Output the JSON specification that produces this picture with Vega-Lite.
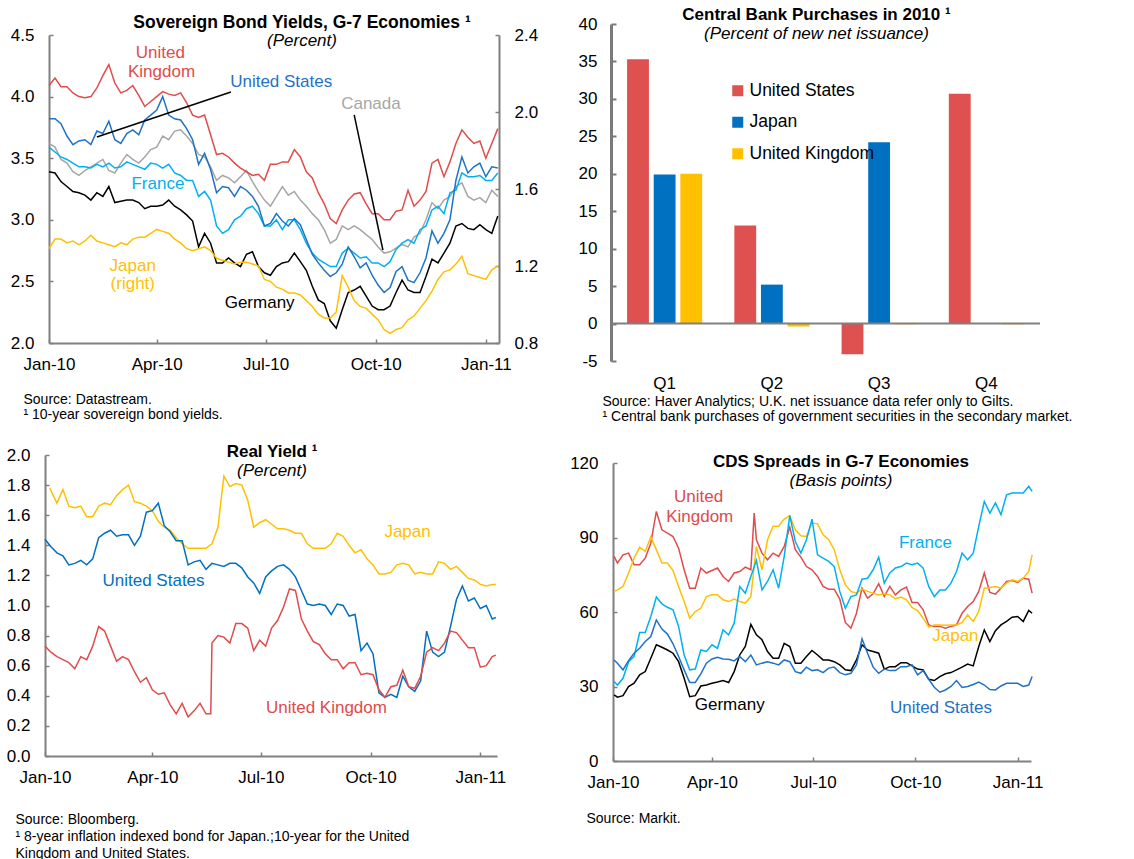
{
"$schema":"https://vega.github.io/schema/vega-lite/v6.json",
"autosize":{"type":"none"},
"padding":{"left":45,"top":24,"right":1089,"bottom":835},
"bounds":"flush",
"columns":2,
"spacing":{"row":94,"column":112},
"resolve":{"scale":{"x":"independent","y":"independent","color":"independent"},"legend":{"color":"independent"}},
"config":{
 "font":"Liberation Sans",
 "locale":{"number":{"decimal":".","thousands":",","grouping":[3],"currency":["$",""],"minus":"-"}},
 "view":{"stroke":null},
 "axis":{"domainColor":"#808080","domainWidth":2,"tickColor":"#808080","tickWidth":1.5,"tickSize":-4,"labelFont":"Liberation Sans","labelFontSize":17,"labelColor":"#000000","grid":false,"titleFont":"Liberation Sans","titleFontSize":14,"titleFontWeight":"normal","titleColor":"#000000","labelFlush":false,"labelOverlap":false,"labelBound":false},
 "axisX":{"labelPadding":17,"titleAnchor":"start","titleAlign":"left","titleBaseline":"top","titleAngle":0},
 "axisY":{"labelPadding":19},
 "title":{"font":"Liberation Sans","fontSize":17,"fontWeight":"bold","color":"#000000","subtitleFont":"Liberation Sans","subtitleFontSize":17,"subtitleFontStyle":"italic","subtitleFontWeight":"normal","subtitleColor":"#000000","subtitlePadding":2,"anchor":"middle","frame":"group"},
 "text":{"font":"Liberation Sans","fontSize":17}
},
"datasets":{
"p1UK":[{"d":"2010-01-01","v":4.09},{"d":"2010-01-06","v":4.15},{"d":"2010-01-11","v":4.08},{"d":"2010-01-16","v":4.08},{"d":"2010-01-21","v":4.03},{"d":"2010-01-26","v":4.00},{"d":"2010-01-31","v":3.99},{"d":"2010-02-05","v":4.00},{"d":"2010-02-10","v":4.07},{"d":"2010-02-15","v":4.17},{"d":"2010-02-20","v":4.26},{"d":"2010-02-25","v":4.11},{"d":"2010-03-02","v":4.03},{"d":"2010-03-07","v":4.05},{"d":"2010-03-12","v":4.09},{"d":"2010-03-17","v":4.01},{"d":"2010-03-22","v":3.92},{"d":"2010-03-27","v":3.96},{"d":"2010-04-01","v":4.00},{"d":"2010-04-06","v":4.04},{"d":"2010-04-11","v":4.02},{"d":"2010-04-16","v":4.01},{"d":"2010-04-21","v":4.03},{"d":"2010-04-26","v":3.95},{"d":"2010-05-01","v":3.85},{"d":"2010-05-06","v":3.83},{"d":"2010-05-11","v":3.85},{"d":"2010-05-16","v":3.69},{"d":"2010-05-21","v":3.53},{"d":"2010-05-26","v":3.54},{"d":"2010-05-31","v":3.51},{"d":"2010-06-05","v":3.46},{"d":"2010-06-10","v":3.42},{"d":"2010-06-15","v":3.39},{"d":"2010-06-20","v":3.36},{"d":"2010-06-25","v":3.37},{"d":"2010-06-30","v":3.32},{"d":"2010-07-05","v":3.45},{"d":"2010-07-10","v":3.45},{"d":"2010-07-15","v":3.47},{"d":"2010-07-20","v":3.47},{"d":"2010-07-25","v":3.57},{"d":"2010-07-30","v":3.51},{"d":"2010-08-04","v":3.39},{"d":"2010-08-09","v":3.34},{"d":"2010-08-14","v":3.22},{"d":"2010-08-19","v":3.13},{"d":"2010-08-24","v":3.01},{"d":"2010-08-29","v":2.97},{"d":"2010-09-03","v":3.08},{"d":"2010-09-08","v":3.16},{"d":"2010-09-13","v":3.21},{"d":"2010-09-18","v":3.22},{"d":"2010-09-23","v":3.13},{"d":"2010-09-28","v":3.05},{"d":"2010-10-03","v":3.05},{"d":"2010-10-08","v":3.00},{"d":"2010-10-13","v":3.00},{"d":"2010-10-18","v":3.07},{"d":"2010-10-23","v":3.08},{"d":"2010-10-28","v":3.24},{"d":"2010-11-02","v":3.11},{"d":"2010-11-07","v":3.16},{"d":"2010-11-12","v":3.23},{"d":"2010-11-17","v":3.46},{"d":"2010-11-22","v":3.49},{"d":"2010-11-27","v":3.35},{"d":"2010-12-02","v":3.47},{"d":"2010-12-07","v":3.62},{"d":"2010-12-12","v":3.73},{"d":"2010-12-17","v":3.67},{"d":"2010-12-22","v":3.62},{"d":"2010-12-27","v":3.64},{"d":"2011-01-01","v":3.50},{"d":"2011-01-06","v":3.62},{"d":"2011-01-11","v":3.74}],
"p1US":[{"d":"2010-01-01","v":3.82},{"d":"2010-01-06","v":3.82},{"d":"2010-01-11","v":3.78},{"d":"2010-01-16","v":3.68},{"d":"2010-01-21","v":3.61},{"d":"2010-01-26","v":3.64},{"d":"2010-01-31","v":3.65},{"d":"2010-02-05","v":3.61},{"d":"2010-02-10","v":3.72},{"d":"2010-02-15","v":3.70},{"d":"2010-02-20","v":3.80},{"d":"2010-02-25","v":3.65},{"d":"2010-03-02","v":3.62},{"d":"2010-03-07","v":3.70},{"d":"2010-03-12","v":3.73},{"d":"2010-03-17","v":3.69},{"d":"2010-03-22","v":3.81},{"d":"2010-03-27","v":3.85},{"d":"2010-04-01","v":3.89},{"d":"2010-04-06","v":4.00},{"d":"2010-04-11","v":3.85},{"d":"2010-04-16","v":3.82},{"d":"2010-04-21","v":3.81},{"d":"2010-04-26","v":3.74},{"d":"2010-05-01","v":3.65},{"d":"2010-05-06","v":3.45},{"d":"2010-05-11","v":3.54},{"d":"2010-05-16","v":3.41},{"d":"2010-05-21","v":3.22},{"d":"2010-05-26","v":3.27},{"d":"2010-05-31","v":3.26},{"d":"2010-06-05","v":3.19},{"d":"2010-06-10","v":3.27},{"d":"2010-06-15","v":3.24},{"d":"2010-06-20","v":3.19},{"d":"2010-06-25","v":3.11},{"d":"2010-06-30","v":2.95},{"d":"2010-07-05","v":2.97},{"d":"2010-07-10","v":3.05},{"d":"2010-07-15","v":2.99},{"d":"2010-07-20","v":2.95},{"d":"2010-07-25","v":3.01},{"d":"2010-07-30","v":2.96},{"d":"2010-08-04","v":2.84},{"d":"2010-08-09","v":2.72},{"d":"2010-08-14","v":2.65},{"d":"2010-08-19","v":2.59},{"d":"2010-08-24","v":2.54},{"d":"2010-08-29","v":2.57},{"d":"2010-09-03","v":2.64},{"d":"2010-09-08","v":2.78},{"d":"2010-09-13","v":2.70},{"d":"2010-09-18","v":2.61},{"d":"2010-09-23","v":2.65},{"d":"2010-09-28","v":2.55},{"d":"2010-10-03","v":2.47},{"d":"2010-10-08","v":2.41},{"d":"2010-10-13","v":2.45},{"d":"2010-10-18","v":2.58},{"d":"2010-10-23","v":2.62},{"d":"2010-10-28","v":2.51},{"d":"2010-11-02","v":2.49},{"d":"2010-11-07","v":2.57},{"d":"2010-11-12","v":2.69},{"d":"2010-11-17","v":2.91},{"d":"2010-11-22","v":2.81},{"d":"2010-11-27","v":2.89},{"d":"2010-12-02","v":3.00},{"d":"2010-12-07","v":3.32},{"d":"2010-12-12","v":3.51},{"d":"2010-12-17","v":3.38},{"d":"2010-12-22","v":3.43},{"d":"2010-12-27","v":3.46},{"d":"2011-01-01","v":3.35},{"d":"2011-01-06","v":3.43},{"d":"2011-01-11","v":3.42}],
"p1CA":[{"d":"2010-01-01","v":3.62},{"d":"2010-01-06","v":3.59},{"d":"2010-01-11","v":3.49},{"d":"2010-01-16","v":3.46},{"d":"2010-01-21","v":3.39},{"d":"2010-01-26","v":3.36},{"d":"2010-01-31","v":3.40},{"d":"2010-02-05","v":3.43},{"d":"2010-02-10","v":3.46},{"d":"2010-02-15","v":3.49},{"d":"2010-02-20","v":3.40},{"d":"2010-02-25","v":3.38},{"d":"2010-03-02","v":3.46},{"d":"2010-03-07","v":3.53},{"d":"2010-03-12","v":3.49},{"d":"2010-03-17","v":3.46},{"d":"2010-03-22","v":3.51},{"d":"2010-03-27","v":3.57},{"d":"2010-04-01","v":3.59},{"d":"2010-04-06","v":3.68},{"d":"2010-04-11","v":3.65},{"d":"2010-04-16","v":3.72},{"d":"2010-04-21","v":3.73},{"d":"2010-04-26","v":3.68},{"d":"2010-05-01","v":3.62},{"d":"2010-05-06","v":3.53},{"d":"2010-05-11","v":3.51},{"d":"2010-05-16","v":3.43},{"d":"2010-05-21","v":3.32},{"d":"2010-05-26","v":3.36},{"d":"2010-05-31","v":3.34},{"d":"2010-06-05","v":3.30},{"d":"2010-06-10","v":3.35},{"d":"2010-06-15","v":3.40},{"d":"2010-06-20","v":3.31},{"d":"2010-06-25","v":3.23},{"d":"2010-06-30","v":3.16},{"d":"2010-07-05","v":3.11},{"d":"2010-07-10","v":3.19},{"d":"2010-07-15","v":3.27},{"d":"2010-07-20","v":3.20},{"d":"2010-07-25","v":3.23},{"d":"2010-07-30","v":3.16},{"d":"2010-08-04","v":3.11},{"d":"2010-08-09","v":3.05},{"d":"2010-08-14","v":3.00},{"d":"2010-08-19","v":2.92},{"d":"2010-08-24","v":2.81},{"d":"2010-08-29","v":2.84},{"d":"2010-09-03","v":2.95},{"d":"2010-09-08","v":2.92},{"d":"2010-09-13","v":2.95},{"d":"2010-09-18","v":2.92},{"d":"2010-09-23","v":2.88},{"d":"2010-09-28","v":2.84},{"d":"2010-10-03","v":2.78},{"d":"2010-10-08","v":2.73},{"d":"2010-10-13","v":2.74},{"d":"2010-10-18","v":2.77},{"d":"2010-10-23","v":2.80},{"d":"2010-10-28","v":2.78},{"d":"2010-11-02","v":2.86},{"d":"2010-11-07","v":2.89},{"d":"2010-11-12","v":3.00},{"d":"2010-11-17","v":3.14},{"d":"2010-11-22","v":3.09},{"d":"2010-11-27","v":3.16},{"d":"2010-12-02","v":3.19},{"d":"2010-12-07","v":3.27},{"d":"2010-12-12","v":3.30},{"d":"2010-12-17","v":3.19},{"d":"2010-12-22","v":3.16},{"d":"2010-12-27","v":3.18},{"d":"2011-01-01","v":3.14},{"d":"2011-01-06","v":3.24},{"d":"2011-01-11","v":3.19}],
"p1FR":[{"d":"2010-01-01","v":3.59},{"d":"2010-01-06","v":3.55},{"d":"2010-01-11","v":3.51},{"d":"2010-01-16","v":3.49},{"d":"2010-01-21","v":3.46},{"d":"2010-01-26","v":3.43},{"d":"2010-01-31","v":3.43},{"d":"2010-02-05","v":3.42},{"d":"2010-02-10","v":3.45},{"d":"2010-02-15","v":3.43},{"d":"2010-02-20","v":3.46},{"d":"2010-02-25","v":3.42},{"d":"2010-03-02","v":3.43},{"d":"2010-03-07","v":3.47},{"d":"2010-03-12","v":3.45},{"d":"2010-03-17","v":3.43},{"d":"2010-03-22","v":3.41},{"d":"2010-03-27","v":3.46},{"d":"2010-04-01","v":3.45},{"d":"2010-04-06","v":3.42},{"d":"2010-04-11","v":3.45},{"d":"2010-04-16","v":3.38},{"d":"2010-04-21","v":3.36},{"d":"2010-04-26","v":3.32},{"d":"2010-05-01","v":3.32},{"d":"2010-05-06","v":3.19},{"d":"2010-05-11","v":3.23},{"d":"2010-05-16","v":3.16},{"d":"2010-05-21","v":2.95},{"d":"2010-05-26","v":2.89},{"d":"2010-05-31","v":2.92},{"d":"2010-06-05","v":3.00},{"d":"2010-06-10","v":3.03},{"d":"2010-06-15","v":3.09},{"d":"2010-06-20","v":3.11},{"d":"2010-06-25","v":3.05},{"d":"2010-06-30","v":2.95},{"d":"2010-07-05","v":2.95},{"d":"2010-07-10","v":3.00},{"d":"2010-07-15","v":2.92},{"d":"2010-07-20","v":3.00},{"d":"2010-07-25","v":3.00},{"d":"2010-07-30","v":2.92},{"d":"2010-08-04","v":2.81},{"d":"2010-08-09","v":2.73},{"d":"2010-08-14","v":2.68},{"d":"2010-08-19","v":2.65},{"d":"2010-08-24","v":2.62},{"d":"2010-08-29","v":2.62},{"d":"2010-09-03","v":2.73},{"d":"2010-09-08","v":2.77},{"d":"2010-09-13","v":2.73},{"d":"2010-09-18","v":2.69},{"d":"2010-09-23","v":2.70},{"d":"2010-09-28","v":2.65},{"d":"2010-10-03","v":2.65},{"d":"2010-10-08","v":2.62},{"d":"2010-10-13","v":2.66},{"d":"2010-10-18","v":2.76},{"d":"2010-10-23","v":2.81},{"d":"2010-10-28","v":2.84},{"d":"2010-11-02","v":2.81},{"d":"2010-11-07","v":2.92},{"d":"2010-11-12","v":2.95},{"d":"2010-11-17","v":3.08},{"d":"2010-11-22","v":3.11},{"d":"2010-11-27","v":3.05},{"d":"2010-12-02","v":3.22},{"d":"2010-12-07","v":3.24},{"d":"2010-12-12","v":3.38},{"d":"2010-12-17","v":3.35},{"d":"2010-12-22","v":3.35},{"d":"2010-12-27","v":3.36},{"d":"2011-01-01","v":3.32},{"d":"2011-01-06","v":3.32},{"d":"2011-01-11","v":3.38}],
"p1DE":[{"d":"2010-01-01","v":3.39},{"d":"2010-01-06","v":3.38},{"d":"2010-01-11","v":3.31},{"d":"2010-01-16","v":3.27},{"d":"2010-01-21","v":3.23},{"d":"2010-01-26","v":3.22},{"d":"2010-01-31","v":3.20},{"d":"2010-02-05","v":3.16},{"d":"2010-02-10","v":3.22},{"d":"2010-02-15","v":3.19},{"d":"2010-02-20","v":3.27},{"d":"2010-02-25","v":3.14},{"d":"2010-03-02","v":3.15},{"d":"2010-03-07","v":3.16},{"d":"2010-03-12","v":3.16},{"d":"2010-03-17","v":3.14},{"d":"2010-03-22","v":3.09},{"d":"2010-03-27","v":3.11},{"d":"2010-04-01","v":3.11},{"d":"2010-04-06","v":3.12},{"d":"2010-04-11","v":3.16},{"d":"2010-04-16","v":3.11},{"d":"2010-04-21","v":3.08},{"d":"2010-04-26","v":3.04},{"d":"2010-05-01","v":2.99},{"d":"2010-05-06","v":2.78},{"d":"2010-05-11","v":2.89},{"d":"2010-05-16","v":2.81},{"d":"2010-05-21","v":2.65},{"d":"2010-05-26","v":2.65},{"d":"2010-05-31","v":2.69},{"d":"2010-06-05","v":2.65},{"d":"2010-06-10","v":2.62},{"d":"2010-06-15","v":2.72},{"d":"2010-06-20","v":2.74},{"d":"2010-06-25","v":2.62},{"d":"2010-06-30","v":2.57},{"d":"2010-07-05","v":2.55},{"d":"2010-07-10","v":2.62},{"d":"2010-07-15","v":2.65},{"d":"2010-07-20","v":2.66},{"d":"2010-07-25","v":2.73},{"d":"2010-07-30","v":2.66},{"d":"2010-08-04","v":2.59},{"d":"2010-08-09","v":2.46},{"d":"2010-08-14","v":2.35},{"d":"2010-08-19","v":2.32},{"d":"2010-08-24","v":2.18},{"d":"2010-08-29","v":2.12},{"d":"2010-09-03","v":2.27},{"d":"2010-09-08","v":2.41},{"d":"2010-09-13","v":2.43},{"d":"2010-09-18","v":2.46},{"d":"2010-09-23","v":2.38},{"d":"2010-09-28","v":2.30},{"d":"2010-10-03","v":2.27},{"d":"2010-10-08","v":2.27},{"d":"2010-10-13","v":2.30},{"d":"2010-10-18","v":2.41},{"d":"2010-10-23","v":2.51},{"d":"2010-10-28","v":2.43},{"d":"2010-11-02","v":2.41},{"d":"2010-11-07","v":2.41},{"d":"2010-11-12","v":2.54},{"d":"2010-11-17","v":2.68},{"d":"2010-11-22","v":2.65},{"d":"2010-11-27","v":2.73},{"d":"2010-12-02","v":2.81},{"d":"2010-12-07","v":2.95},{"d":"2010-12-12","v":2.97},{"d":"2010-12-17","v":2.93},{"d":"2010-12-22","v":2.92},{"d":"2010-12-27","v":2.96},{"d":"2011-01-01","v":2.92},{"d":"2011-01-06","v":2.89},{"d":"2011-01-11","v":3.03}],
"p1JP":[{"d":"2010-01-01","v":1.29},{"d":"2010-01-06","v":1.34},{"d":"2010-01-11","v":1.34},{"d":"2010-01-16","v":1.32},{"d":"2010-01-21","v":1.33},{"d":"2010-01-26","v":1.31},{"d":"2010-01-31","v":1.33},{"d":"2010-02-05","v":1.36},{"d":"2010-02-10","v":1.33},{"d":"2010-02-15","v":1.32},{"d":"2010-02-20","v":1.31},{"d":"2010-02-25","v":1.30},{"d":"2010-03-02","v":1.32},{"d":"2010-03-07","v":1.31},{"d":"2010-03-12","v":1.34},{"d":"2010-03-17","v":1.35},{"d":"2010-03-22","v":1.35},{"d":"2010-03-27","v":1.37},{"d":"2010-04-01","v":1.39},{"d":"2010-04-06","v":1.38},{"d":"2010-04-11","v":1.37},{"d":"2010-04-16","v":1.34},{"d":"2010-04-21","v":1.32},{"d":"2010-04-26","v":1.29},{"d":"2010-05-01","v":1.28},{"d":"2010-05-06","v":1.29},{"d":"2010-05-11","v":1.30},{"d":"2010-05-16","v":1.28},{"d":"2010-05-21","v":1.24},{"d":"2010-05-26","v":1.23},{"d":"2010-05-31","v":1.22},{"d":"2010-06-05","v":1.21},{"d":"2010-06-10","v":1.22},{"d":"2010-06-15","v":1.22},{"d":"2010-06-20","v":1.21},{"d":"2010-06-25","v":1.20},{"d":"2010-06-30","v":1.13},{"d":"2010-07-05","v":1.12},{"d":"2010-07-10","v":1.09},{"d":"2010-07-15","v":1.08},{"d":"2010-07-20","v":1.06},{"d":"2010-07-25","v":1.06},{"d":"2010-07-30","v":1.05},{"d":"2010-08-04","v":1.02},{"d":"2010-08-09","v":0.99},{"d":"2010-08-14","v":0.95},{"d":"2010-08-19","v":0.93},{"d":"2010-08-24","v":0.93},{"d":"2010-08-29","v":0.96},{"d":"2010-09-03","v":1.15},{"d":"2010-09-08","v":1.09},{"d":"2010-09-13","v":1.02},{"d":"2010-09-18","v":0.99},{"d":"2010-09-23","v":0.98},{"d":"2010-09-28","v":0.95},{"d":"2010-10-03","v":0.92},{"d":"2010-10-08","v":0.87},{"d":"2010-10-13","v":0.85},{"d":"2010-10-18","v":0.87},{"d":"2010-10-23","v":0.88},{"d":"2010-10-28","v":0.92},{"d":"2010-11-02","v":0.94},{"d":"2010-11-07","v":0.98},{"d":"2010-11-12","v":1.02},{"d":"2010-11-17","v":1.07},{"d":"2010-11-22","v":1.13},{"d":"2010-11-27","v":1.17},{"d":"2010-12-02","v":1.18},{"d":"2010-12-07","v":1.21},{"d":"2010-12-12","v":1.25},{"d":"2010-12-17","v":1.16},{"d":"2010-12-22","v":1.15},{"d":"2010-12-27","v":1.14},{"d":"2011-01-01","v":1.13},{"d":"2011-01-06","v":1.18},{"d":"2011-01-11","v":1.20}],
"p2":[{"q":"Q1","s":"United States","v":35.3},{"q":"Q1","s":"Japan","v":19.9},{"q":"Q1","s":"United Kingdom","v":20.0},{"q":"Q2","s":"United States","v":13.1},{"q":"Q2","s":"Japan","v":5.2},{"q":"Q2","s":"United Kingdom","v":-0.4},{"q":"Q3","s":"United States","v":-4.1},{"q":"Q3","s":"Japan","v":24.2},{"q":"Q3","s":"United Kingdom","v":-0.1},{"q":"Q4","s":"United States","v":30.7},{"q":"Q4","s":"Japan","v":0},{"q":"Q4","s":"United Kingdom","v":-0.1}],
"p3JP":[{"d":"2010-01-05","v":1.78},{"d":"2010-01-11","v":1.68},{"d":"2010-01-16","v":1.77},{"d":"2010-01-21","v":1.66},{"d":"2010-01-26","v":1.65},{"d":"2010-01-31","v":1.66},{"d":"2010-02-05","v":1.59},{"d":"2010-02-10","v":1.59},{"d":"2010-02-15","v":1.66},{"d":"2010-02-20","v":1.68},{"d":"2010-02-25","v":1.67},{"d":"2010-03-02","v":1.73},{"d":"2010-03-07","v":1.77},{"d":"2010-03-12","v":1.80},{"d":"2010-03-17","v":1.69},{"d":"2010-03-22","v":1.68},{"d":"2010-03-27","v":1.66},{"d":"2010-04-01","v":1.63},{"d":"2010-04-06","v":1.56},{"d":"2010-04-11","v":1.52},{"d":"2010-04-16","v":1.50},{"d":"2010-04-21","v":1.45},{"d":"2010-04-26","v":1.41},{"d":"2010-05-01","v":1.38},{"d":"2010-05-06","v":1.38},{"d":"2010-05-11","v":1.38},{"d":"2010-05-16","v":1.38},{"d":"2010-05-21","v":1.41},{"d":"2010-05-26","v":1.52},{"d":"2010-05-31","v":1.86},{"d":"2010-06-05","v":1.79},{"d":"2010-06-10","v":1.81},{"d":"2010-06-15","v":1.80},{"d":"2010-06-20","v":1.70},{"d":"2010-06-25","v":1.52},{"d":"2010-06-30","v":1.55},{"d":"2010-07-05","v":1.57},{"d":"2010-07-10","v":1.54},{"d":"2010-07-15","v":1.51},{"d":"2010-07-20","v":1.51},{"d":"2010-07-25","v":1.50},{"d":"2010-07-30","v":1.48},{"d":"2010-08-04","v":1.48},{"d":"2010-08-09","v":1.41},{"d":"2010-08-14","v":1.38},{"d":"2010-08-19","v":1.38},{"d":"2010-08-24","v":1.38},{"d":"2010-08-29","v":1.41},{"d":"2010-09-03","v":1.48},{"d":"2010-09-08","v":1.46},{"d":"2010-09-13","v":1.40},{"d":"2010-09-18","v":1.35},{"d":"2010-09-23","v":1.37},{"d":"2010-09-28","v":1.31},{"d":"2010-10-03","v":1.27},{"d":"2010-10-08","v":1.21},{"d":"2010-10-13","v":1.21},{"d":"2010-10-18","v":1.22},{"d":"2010-10-23","v":1.27},{"d":"2010-10-28","v":1.28},{"d":"2010-11-02","v":1.27},{"d":"2010-11-07","v":1.21},{"d":"2010-11-12","v":1.22},{"d":"2010-11-17","v":1.21},{"d":"2010-11-22","v":1.21},{"d":"2010-11-27","v":1.29},{"d":"2010-12-02","v":1.28},{"d":"2010-12-07","v":1.24},{"d":"2010-12-12","v":1.26},{"d":"2010-12-17","v":1.22},{"d":"2010-12-22","v":1.18},{"d":"2010-12-27","v":1.17},{"d":"2011-01-01","v":1.14},{"d":"2011-01-06","v":1.13},{"d":"2011-01-11","v":1.14},{"d":"2011-01-14","v":1.14}],
"p3US":[{"d":"2010-01-01","v":1.44},{"d":"2010-01-06","v":1.39},{"d":"2010-01-11","v":1.35},{"d":"2010-01-16","v":1.33},{"d":"2010-01-21","v":1.27},{"d":"2010-01-26","v":1.28},{"d":"2010-01-31","v":1.30},{"d":"2010-02-05","v":1.27},{"d":"2010-02-10","v":1.31},{"d":"2010-02-15","v":1.45},{"d":"2010-02-20","v":1.48},{"d":"2010-02-25","v":1.50},{"d":"2010-03-02","v":1.46},{"d":"2010-03-07","v":1.47},{"d":"2010-03-12","v":1.47},{"d":"2010-03-17","v":1.40},{"d":"2010-03-22","v":1.46},{"d":"2010-03-27","v":1.62},{"d":"2010-04-01","v":1.63},{"d":"2010-04-06","v":1.68},{"d":"2010-04-11","v":1.53},{"d":"2010-04-16","v":1.49},{"d":"2010-04-21","v":1.43},{"d":"2010-04-26","v":1.43},{"d":"2010-05-01","v":1.27},{"d":"2010-05-06","v":1.29},{"d":"2010-05-11","v":1.30},{"d":"2010-05-16","v":1.24},{"d":"2010-05-21","v":1.28},{"d":"2010-05-26","v":1.27},{"d":"2010-05-31","v":1.26},{"d":"2010-06-05","v":1.28},{"d":"2010-06-10","v":1.28},{"d":"2010-06-15","v":1.25},{"d":"2010-06-20","v":1.19},{"d":"2010-06-25","v":1.15},{"d":"2010-06-30","v":1.08},{"d":"2010-07-05","v":1.19},{"d":"2010-07-10","v":1.23},{"d":"2010-07-15","v":1.26},{"d":"2010-07-20","v":1.27},{"d":"2010-07-25","v":1.24},{"d":"2010-07-30","v":1.19},{"d":"2010-08-04","v":1.10},{"d":"2010-08-09","v":1.01},{"d":"2010-08-14","v":1.00},{"d":"2010-08-19","v":1.01},{"d":"2010-08-24","v":1.00},{"d":"2010-08-29","v":0.94},{"d":"2010-09-03","v":1.01},{"d":"2010-09-08","v":1.00},{"d":"2010-09-13","v":0.93},{"d":"2010-09-18","v":0.94},{"d":"2010-09-23","v":0.70},{"d":"2010-09-28","v":0.75},{"d":"2010-10-03","v":0.68},{"d":"2010-10-08","v":0.42},{"d":"2010-10-13","v":0.39},{"d":"2010-10-18","v":0.41},{"d":"2010-10-23","v":0.39},{"d":"2010-10-28","v":0.53},{"d":"2010-11-02","v":0.46},{"d":"2010-11-07","v":0.43},{"d":"2010-11-12","v":0.50},{"d":"2010-11-17","v":0.83},{"d":"2010-11-22","v":0.69},{"d":"2010-11-27","v":0.66},{"d":"2010-12-02","v":0.69},{"d":"2010-12-07","v":0.86},{"d":"2010-12-12","v":1.04},{"d":"2010-12-17","v":1.13},{"d":"2010-12-22","v":1.03},{"d":"2010-12-27","v":1.05},{"d":"2011-01-01","v":0.98},{"d":"2011-01-06","v":1.00},{"d":"2011-01-11","v":0.91},{"d":"2011-01-14","v":0.92}],
"p3UK":[{"d":"2010-01-01","v":0.73},{"d":"2010-01-06","v":0.69},{"d":"2010-01-11","v":0.66},{"d":"2010-01-16","v":0.64},{"d":"2010-01-21","v":0.62},{"d":"2010-01-26","v":0.58},{"d":"2010-01-31","v":0.66},{"d":"2010-02-05","v":0.64},{"d":"2010-02-10","v":0.73},{"d":"2010-02-15","v":0.86},{"d":"2010-02-20","v":0.83},{"d":"2010-02-25","v":0.73},{"d":"2010-03-02","v":0.63},{"d":"2010-03-07","v":0.66},{"d":"2010-03-12","v":0.64},{"d":"2010-03-17","v":0.56},{"d":"2010-03-22","v":0.49},{"d":"2010-03-27","v":0.52},{"d":"2010-04-01","v":0.44},{"d":"2010-04-06","v":0.41},{"d":"2010-04-11","v":0.42},{"d":"2010-04-16","v":0.34},{"d":"2010-04-21","v":0.28},{"d":"2010-04-26","v":0.35},{"d":"2010-05-01","v":0.26},{"d":"2010-05-06","v":0.30},{"d":"2010-05-11","v":0.35},{"d":"2010-05-16","v":0.28},{"d":"2010-05-20","v":0.28},{"d":"2010-05-21","v":0.75},{"d":"2010-05-26","v":0.80},{"d":"2010-05-31","v":0.79},{"d":"2010-06-05","v":0.75},{"d":"2010-06-10","v":0.88},{"d":"2010-06-15","v":0.88},{"d":"2010-06-20","v":0.85},{"d":"2010-06-25","v":0.70},{"d":"2010-06-30","v":0.77},{"d":"2010-07-05","v":0.73},{"d":"2010-07-10","v":0.85},{"d":"2010-07-15","v":0.90},{"d":"2010-07-20","v":0.99},{"d":"2010-07-25","v":1.11},{"d":"2010-07-30","v":1.10},{"d":"2010-08-04","v":0.91},{"d":"2010-08-09","v":0.83},{"d":"2010-08-14","v":0.76},{"d":"2010-08-19","v":0.74},{"d":"2010-08-24","v":0.68},{"d":"2010-08-29","v":0.64},{"d":"2010-09-03","v":0.64},{"d":"2010-09-08","v":0.58},{"d":"2010-09-13","v":0.62},{"d":"2010-09-18","v":0.62},{"d":"2010-09-23","v":0.54},{"d":"2010-09-28","v":0.55},{"d":"2010-10-03","v":0.54},{"d":"2010-10-08","v":0.44},{"d":"2010-10-13","v":0.39},{"d":"2010-10-18","v":0.46},{"d":"2010-10-23","v":0.47},{"d":"2010-10-28","v":0.57},{"d":"2010-11-02","v":0.46},{"d":"2010-11-07","v":0.45},{"d":"2010-11-12","v":0.53},{"d":"2010-11-17","v":0.69},{"d":"2010-11-22","v":0.72},{"d":"2010-11-27","v":0.70},{"d":"2010-12-02","v":0.75},{"d":"2010-12-07","v":0.83},{"d":"2010-12-12","v":0.82},{"d":"2010-12-17","v":0.77},{"d":"2010-12-22","v":0.72},{"d":"2010-12-27","v":0.72},{"d":"2011-01-01","v":0.59},{"d":"2011-01-06","v":0.60},{"d":"2011-01-11","v":0.66},{"d":"2011-01-14","v":0.67}],
"p4UK":[{"d":"2010-01-03","v":82.4},{"d":"2010-01-06","v":79.7},{"d":"2010-01-11","v":83.0},{"d":"2010-01-16","v":83.7},{"d":"2010-01-21","v":79.0},{"d":"2010-01-26","v":79.0},{"d":"2010-01-31","v":81.7},{"d":"2010-02-05","v":87.7},{"d":"2010-02-10","v":100.5},{"d":"2010-02-15","v":93.1},{"d":"2010-02-20","v":91.8},{"d":"2010-02-25","v":90.4},{"d":"2010-03-02","v":85.7},{"d":"2010-03-07","v":77.0},{"d":"2010-03-12","v":69.6},{"d":"2010-03-17","v":69.6},{"d":"2010-03-22","v":77.7},{"d":"2010-03-27","v":75.7},{"d":"2010-04-01","v":76.7},{"d":"2010-04-06","v":77.7},{"d":"2010-04-11","v":74.3},{"d":"2010-04-16","v":72.3},{"d":"2010-04-21","v":75.7},{"d":"2010-04-26","v":76.3},{"d":"2010-05-01","v":78.1},{"d":"2010-05-06","v":77.0},{"d":"2010-05-09","v":99.8},{"d":"2010-05-11","v":89.1},{"d":"2010-05-16","v":83.7},{"d":"2010-05-21","v":81.0},{"d":"2010-05-26","v":83.7},{"d":"2010-05-31","v":82.4},{"d":"2010-06-05","v":86.4},{"d":"2010-06-10","v":94.2},{"d":"2010-06-15","v":85.1},{"d":"2010-06-20","v":82.1},{"d":"2010-06-25","v":78.3},{"d":"2010-06-30","v":77.0},{"d":"2010-07-05","v":74.3},{"d":"2010-07-10","v":70.3},{"d":"2010-07-15","v":69.2},{"d":"2010-07-20","v":69.2},{"d":"2010-07-25","v":65.2},{"d":"2010-07-30","v":55.8},{"d":"2010-08-04","v":53.5},{"d":"2010-08-09","v":59.5},{"d":"2010-08-14","v":69.6},{"d":"2010-08-19","v":65.6},{"d":"2010-08-24","v":67.3},{"d":"2010-08-29","v":71.4},{"d":"2010-09-03","v":66.3},{"d":"2010-09-08","v":70.3},{"d":"2010-09-13","v":66.9},{"d":"2010-09-18","v":68.9},{"d":"2010-09-23","v":70.0},{"d":"2010-09-28","v":63.8},{"d":"2010-10-03","v":63.8},{"d":"2010-10-08","v":60.9},{"d":"2010-10-13","v":54.8},{"d":"2010-10-18","v":54.2},{"d":"2010-10-23","v":54.2},{"d":"2010-10-28","v":53.5},{"d":"2010-11-02","v":54.2},{"d":"2010-11-07","v":54.8},{"d":"2010-11-12","v":59.5},{"d":"2010-11-17","v":62.2},{"d":"2010-11-22","v":64.2},{"d":"2010-11-27","v":68.3},{"d":"2010-12-02","v":75.7},{"d":"2010-12-07","v":67.9},{"d":"2010-12-12","v":67.2},{"d":"2010-12-17","v":69.6},{"d":"2010-12-22","v":72.3},{"d":"2010-12-27","v":72.7},{"d":"2011-01-01","v":71.9},{"d":"2011-01-06","v":73.6},{"d":"2011-01-11","v":73.2},{"d":"2011-01-14","v":67.6}],
"p4JP":[{"d":"2010-01-03","v":68.3},{"d":"2010-01-06","v":68.9},{"d":"2010-01-11","v":70.3},{"d":"2010-01-16","v":75.7},{"d":"2010-01-21","v":81.7},{"d":"2010-01-26","v":86.1},{"d":"2010-01-31","v":84.4},{"d":"2010-02-05","v":90.2},{"d":"2010-02-10","v":85.1},{"d":"2010-02-15","v":79.7},{"d":"2010-02-20","v":79.7},{"d":"2010-02-25","v":76.7},{"d":"2010-03-02","v":70.3},{"d":"2010-03-07","v":64.2},{"d":"2010-03-12","v":57.5},{"d":"2010-03-17","v":60.2},{"d":"2010-03-22","v":61.5},{"d":"2010-03-27","v":66.2},{"d":"2010-04-01","v":66.9},{"d":"2010-04-06","v":66.9},{"d":"2010-04-11","v":64.9},{"d":"2010-04-16","v":64.2},{"d":"2010-04-21","v":65.2},{"d":"2010-04-26","v":64.2},{"d":"2010-05-01","v":63.6},{"d":"2010-05-06","v":66.2},{"d":"2010-05-11","v":86.4},{"d":"2010-05-16","v":77.0},{"d":"2010-05-21","v":89.1},{"d":"2010-05-26","v":94.5},{"d":"2010-05-31","v":94.5},{"d":"2010-06-05","v":97.4},{"d":"2010-06-10","v":98.8},{"d":"2010-06-15","v":93.1},{"d":"2010-06-20","v":90.7},{"d":"2010-06-25","v":90.4},{"d":"2010-06-30","v":95.8},{"d":"2010-07-05","v":95.5},{"d":"2010-07-10","v":91.1},{"d":"2010-07-15","v":89.1},{"d":"2010-07-20","v":85.1},{"d":"2010-07-25","v":77.0},{"d":"2010-07-30","v":71.0},{"d":"2010-08-04","v":68.3},{"d":"2010-08-09","v":67.6},{"d":"2010-08-14","v":69.2},{"d":"2010-08-19","v":68.3},{"d":"2010-08-24","v":67.6},{"d":"2010-08-29","v":66.9},{"d":"2010-09-03","v":67.3},{"d":"2010-09-08","v":66.9},{"d":"2010-09-13","v":65.3},{"d":"2010-09-18","v":66.0},{"d":"2010-09-23","v":64.9},{"d":"2010-09-28","v":61.8},{"d":"2010-10-03","v":60.6},{"d":"2010-10-08","v":57.5},{"d":"2010-10-13","v":53.9},{"d":"2010-10-18","v":54.8},{"d":"2010-10-23","v":54.8},{"d":"2010-10-28","v":54.7},{"d":"2010-11-02","v":54.8},{"d":"2010-11-07","v":54.8},{"d":"2010-11-12","v":55.8},{"d":"2010-11-17","v":58.9},{"d":"2010-11-22","v":56.2},{"d":"2010-11-27","v":60.2},{"d":"2010-12-02","v":69.6},{"d":"2010-12-07","v":69.9},{"d":"2010-12-12","v":70.3},{"d":"2010-12-17","v":69.6},{"d":"2010-12-22","v":71.6},{"d":"2010-12-27","v":73.0},{"d":"2011-01-01","v":72.3},{"d":"2011-01-06","v":73.6},{"d":"2011-01-11","v":76.3},{"d":"2011-01-14","v":83.0}],
"p4FR":[{"d":"2010-01-03","v":32.0},{"d":"2010-01-06","v":30.6},{"d":"2010-01-11","v":33.3},{"d":"2010-01-16","v":40.0},{"d":"2010-01-21","v":42.1},{"d":"2010-01-26","v":51.7},{"d":"2010-01-31","v":51.7},{"d":"2010-02-05","v":58.2},{"d":"2010-02-10","v":66.0},{"d":"2010-02-15","v":63.3},{"d":"2010-02-20","v":61.9},{"d":"2010-02-25","v":60.9},{"d":"2010-03-02","v":54.2},{"d":"2010-03-07","v":42.7},{"d":"2010-03-12","v":36.7},{"d":"2010-03-17","v":37.0},{"d":"2010-03-22","v":44.7},{"d":"2010-03-27","v":44.1},{"d":"2010-04-01","v":46.8},{"d":"2010-04-06","v":45.4},{"d":"2010-04-11","v":52.8},{"d":"2010-04-16","v":50.8},{"d":"2010-04-21","v":55.5},{"d":"2010-04-26","v":70.3},{"d":"2010-05-01","v":67.6},{"d":"2010-05-06","v":74.3},{"d":"2010-05-11","v":80.8},{"d":"2010-05-16","v":68.9},{"d":"2010-05-21","v":72.3},{"d":"2010-05-26","v":77.0},{"d":"2010-05-31","v":69.6},{"d":"2010-06-05","v":82.4},{"d":"2010-06-10","v":98.8},{"d":"2010-06-15","v":88.4},{"d":"2010-06-20","v":83.7},{"d":"2010-06-25","v":89.1},{"d":"2010-06-30","v":97.4},{"d":"2010-07-05","v":83.0},{"d":"2010-07-10","v":81.7},{"d":"2010-07-15","v":80.4},{"d":"2010-07-20","v":78.3},{"d":"2010-07-25","v":68.3},{"d":"2010-07-30","v":61.5},{"d":"2010-08-04","v":66.2},{"d":"2010-08-09","v":66.9},{"d":"2010-08-14","v":73.2},{"d":"2010-08-19","v":73.6},{"d":"2010-08-24","v":77.0},{"d":"2010-08-29","v":82.1},{"d":"2010-09-03","v":71.6},{"d":"2010-09-08","v":75.7},{"d":"2010-09-13","v":77.7},{"d":"2010-09-18","v":78.3},{"d":"2010-09-23","v":79.7},{"d":"2010-09-28","v":79.0},{"d":"2010-10-03","v":79.7},{"d":"2010-10-08","v":77.7},{"d":"2010-10-13","v":70.3},{"d":"2010-10-18","v":66.2},{"d":"2010-10-23","v":68.9},{"d":"2010-10-28","v":68.9},{"d":"2010-11-02","v":71.6},{"d":"2010-11-07","v":76.3},{"d":"2010-11-12","v":83.7},{"d":"2010-11-17","v":81.0},{"d":"2010-11-22","v":83.7},{"d":"2010-11-27","v":94.5},{"d":"2010-12-02","v":104.5},{"d":"2010-12-07","v":99.8},{"d":"2010-12-12","v":103.9},{"d":"2010-12-17","v":99.2},{"d":"2010-12-22","v":107.2},{"d":"2010-12-27","v":107.9},{"d":"2011-01-01","v":107.9},{"d":"2011-01-06","v":107.9},{"d":"2011-01-11","v":110.6},{"d":"2011-01-14","v":108.6}],
"p4US":[{"d":"2010-01-03","v":40.7},{"d":"2010-01-06","v":39.4},{"d":"2010-01-11","v":36.7},{"d":"2010-01-16","v":40.4},{"d":"2010-01-21","v":43.4},{"d":"2010-01-26","v":45.4},{"d":"2010-01-31","v":48.1},{"d":"2010-02-05","v":50.1},{"d":"2010-02-10","v":56.8},{"d":"2010-02-15","v":53.1},{"d":"2010-02-20","v":51.1},{"d":"2010-02-25","v":47.2},{"d":"2010-03-02","v":42.1},{"d":"2010-03-07","v":36.7},{"d":"2010-03-12","v":31.6},{"d":"2010-03-17","v":31.6},{"d":"2010-03-22","v":35.1},{"d":"2010-03-27","v":39.4},{"d":"2010-04-01","v":41.1},{"d":"2010-04-06","v":41.8},{"d":"2010-04-11","v":41.1},{"d":"2010-04-16","v":41.0},{"d":"2010-04-21","v":40.3},{"d":"2010-04-26","v":42.1},{"d":"2010-05-01","v":40.0},{"d":"2010-05-06","v":42.7},{"d":"2010-05-11","v":38.7},{"d":"2010-05-16","v":39.4},{"d":"2010-05-21","v":40.0},{"d":"2010-05-26","v":39.4},{"d":"2010-05-31","v":38.7},{"d":"2010-06-05","v":40.7},{"d":"2010-06-10","v":40.0},{"d":"2010-06-15","v":36.0},{"d":"2010-06-20","v":35.3},{"d":"2010-06-25","v":37.8},{"d":"2010-06-30","v":36.4},{"d":"2010-07-05","v":36.7},{"d":"2010-07-10","v":35.6},{"d":"2010-07-15","v":37.4},{"d":"2010-07-20","v":37.8},{"d":"2010-07-25","v":35.6},{"d":"2010-07-30","v":34.7},{"d":"2010-08-04","v":35.3},{"d":"2010-08-09","v":38.7},{"d":"2010-08-14","v":49.2},{"d":"2010-08-19","v":43.4},{"d":"2010-08-24","v":37.8},{"d":"2010-08-29","v":35.3},{"d":"2010-09-03","v":37.0},{"d":"2010-09-08","v":36.4},{"d":"2010-09-13","v":36.4},{"d":"2010-09-18","v":38.0},{"d":"2010-09-23","v":38.0},{"d":"2010-09-28","v":38.7},{"d":"2010-10-03","v":34.7},{"d":"2010-10-08","v":36.4},{"d":"2010-10-13","v":32.9},{"d":"2010-10-18","v":29.7},{"d":"2010-10-23","v":27.7},{"d":"2010-10-28","v":28.6},{"d":"2010-11-02","v":30.0},{"d":"2010-11-07","v":32.4},{"d":"2010-11-12","v":29.6},{"d":"2010-11-17","v":30.0},{"d":"2010-11-22","v":30.8},{"d":"2010-11-27","v":31.8},{"d":"2010-12-02","v":30.6},{"d":"2010-12-07","v":28.8},{"d":"2010-12-12","v":28.6},{"d":"2010-12-17","v":30.2},{"d":"2010-12-22","v":31.3},{"d":"2010-12-27","v":31.3},{"d":"2011-01-01","v":31.3},{"d":"2011-01-06","v":30.0},{"d":"2011-01-11","v":30.6},{"d":"2011-01-14","v":34.0}],
"p4DE":[{"d":"2010-01-03","v":26.6},{"d":"2010-01-06","v":25.7},{"d":"2010-01-11","v":26.3},{"d":"2010-01-16","v":30.0},{"d":"2010-01-21","v":31.3},{"d":"2010-01-26","v":34.7},{"d":"2010-01-31","v":36.0},{"d":"2010-02-05","v":41.4},{"d":"2010-02-10","v":46.8},{"d":"2010-02-15","v":45.8},{"d":"2010-02-20","v":44.7},{"d":"2010-02-25","v":43.4},{"d":"2010-03-02","v":40.0},{"d":"2010-03-07","v":33.3},{"d":"2010-03-12","v":25.9},{"d":"2010-03-17","v":26.3},{"d":"2010-03-22","v":30.2},{"d":"2010-03-27","v":30.6},{"d":"2010-04-01","v":31.3},{"d":"2010-04-06","v":31.8},{"d":"2010-04-11","v":32.4},{"d":"2010-04-16","v":31.6},{"d":"2010-04-21","v":36.0},{"d":"2010-04-26","v":42.7},{"d":"2010-05-01","v":46.1},{"d":"2010-05-06","v":55.0},{"d":"2010-05-11","v":50.8},{"d":"2010-05-16","v":48.8},{"d":"2010-05-21","v":44.1},{"d":"2010-05-26","v":41.4},{"d":"2010-05-31","v":41.4},{"d":"2010-06-05","v":47.4},{"d":"2010-06-10","v":46.1},{"d":"2010-06-15","v":39.4},{"d":"2010-06-20","v":39.4},{"d":"2010-06-25","v":42.1},{"d":"2010-06-30","v":44.5},{"d":"2010-07-05","v":42.7},{"d":"2010-07-10","v":40.7},{"d":"2010-07-15","v":40.7},{"d":"2010-07-20","v":40.0},{"d":"2010-07-25","v":38.7},{"d":"2010-07-30","v":36.7},{"d":"2010-08-04","v":36.4},{"d":"2010-08-09","v":40.7},{"d":"2010-08-14","v":46.8},{"d":"2010-08-19","v":44.7},{"d":"2010-08-24","v":44.1},{"d":"2010-08-29","v":43.4},{"d":"2010-09-03","v":37.0},{"d":"2010-09-08","v":38.0},{"d":"2010-09-13","v":38.0},{"d":"2010-09-18","v":39.6},{"d":"2010-09-23","v":39.6},{"d":"2010-09-28","v":38.3},{"d":"2010-10-03","v":37.0},{"d":"2010-10-08","v":36.7},{"d":"2010-10-13","v":32.9},{"d":"2010-10-18","v":32.4},{"d":"2010-10-23","v":34.0},{"d":"2010-10-28","v":35.1},{"d":"2010-11-02","v":35.6},{"d":"2010-11-07","v":36.7},{"d":"2010-11-12","v":37.8},{"d":"2010-11-17","v":39.0},{"d":"2010-11-22","v":38.3},{"d":"2010-11-27","v":46.1},{"d":"2010-12-02","v":52.8},{"d":"2010-12-07","v":48.1},{"d":"2010-12-12","v":52.5},{"d":"2010-12-17","v":54.8},{"d":"2010-12-22","v":56.2},{"d":"2010-12-27","v":57.9},{"d":"2011-01-01","v":58.2},{"d":"2011-01-06","v":56.2},{"d":"2011-01-11","v":60.6},{"d":"2011-01-14","v":59.5}]
},
"concat":[
{
 "width":454,"height":319,
 "title":{"text":"Sovereign Bond Yields, G-7 Economies ¹","subtitle":"(Percent)","dx":30,"offset":-25,"fontSize":17.5},
 "encoding":{"x":{"field":"d","type":"temporal","scale":{"type":"utc","domain":[{"year":2010,"month":1,"date":1,"utc":true},{"year":2011,"month":1,"date":12,"utc":true}],"range":[4,454]},
   "axis":{"values":[{"year":2010,"month":1,"date":1,"utc":true},{"year":2010,"month":4,"date":1,"utc":true},{"year":2010,"month":7,"date":1,"utc":true},{"year":2010,"month":10,"date":1,"utc":true},{"year":2011,"month":1,"date":1,"utc":true}],"format":"%b-%y","title":["Source: Datastream.","¹ 10-year sovereign bond yields."],"titleX":-22,"titleY":49,"titleLineHeight":15}}},
 "layer":[
  {"encoding":{"y":{"field":"v","type":"quantitative","scale":{"domain":[2,4.5],"range":[319,11],"nice":false,"zero":false},"axis":{"values":[2,2.5,3,3.5,4,4.5],"format":".1f","title":null,"offset":-4}}},
   "layer":[
    {"data":{"name":"p1CA"},"mark":{"type":"line","color":"#a6a6a6","strokeWidth":1.5},"encoding":{}},
    {"data":{"name":"p1FR"},"mark":{"type":"line","color":"#00b0f0","strokeWidth":1.5},"encoding":{}},
    {"data":{"name":"p1DE"},"mark":{"type":"line","color":"#000000","strokeWidth":1.5},"encoding":{}},
    {"data":{"name":"p1US"},"mark":{"type":"line","color":"#1f72c6","strokeWidth":1.5},"encoding":{}},
    {"data":{"name":"p1UK"},"mark":{"type":"line","color":"#e04b4b","strokeWidth":1.5},"encoding":{}},
    {"data":{"values":[{"d":"2010-02-10","v":3.672,"d2":"2010-06-02","v2":4.037},{"d":"2010-09-13","v":3.851,"d2":"2010-10-07","v2":2.755}]},"mark":{"type":"rule","color":"#000000","strokeWidth":1.5},"encoding":{"x2":{"field":"d2"},"y2":{"field":"v2"}}},
    {"data":{"values":[{"d":"2010-04-04","v":4.354,"t":"United","s":"UK"},{"d":"2010-04-05","v":4.2,"t":"Kingdom","s":"UK"},{"d":"2010-07-14","v":4.118,"t":"United States","s":"US"},{"d":"2010-09-27","v":3.94,"t":"Canada","s":"CA"},{"d":"2010-04-02","v":3.29,"t":"France","s":"FR"},{"d":"2010-03-12","v":2.625,"t":"Japan","s":"JP"},{"d":"2010-03-12","v":2.479,"t":"(right)","s":"JP"},{"d":"2010-06-26","v":2.325,"t":"Germany","s":"DE"}]},
     "mark":{"type":"text","align":"center","baseline":"middle","fontSize":17},
     "encoding":{"text":{"field":"t"},"color":{"field":"s","type":"nominal","scale":{"domain":["UK","US","CA","FR","DE","JP"],"range":["#e04b4b","#1f72c6","#a6a6a6","#00b0f0","#000000","#ffc000"]},"legend":null}}}
   ]},
  {"data":{"name":"p1JP"},"mark":{"type":"line","color":"#ffc000","strokeWidth":1.5},
   "encoding":{"y":{"field":"v","type":"quantitative","scale":{"domain":[0.8,2.4],"range":[319,11],"nice":false,"zero":false},"axis":{"orient":"right","values":[0.8,1.2,1.6,2.0,2.4],"format":".1f","title":null}}}}
 ],
 "resolve":{"scale":{"y":"independent"}}
},
{
 "width":429,"height":337,
 "title":{"text":"Central Bank Purchases  in 2010 ¹","subtitle":"(Percent of new net issuance)","dx":-9,"offset":-27.5},
 "data":{"name":"p2"},
 "encoding":{"y":{"field":"v","type":"quantitative","scale":{"domain":[-5,40],"nice":false,"zero":false},"axis":{"values":[-5,0,5,10,15,20,25,30,35,40],"title":null,"domain":true,"domainColor":"#7a7a7a","domainWidth":3,"ticks":true,"tickColor":"#7a7a7a","tickWidth":2,"tickSize":-5,"labelOverlap":false}}},
 "layer":[
  {"mark":{"type":"bar"},
   "encoding":{
    "x":{"field":"q","type":"nominal","scale":{"paddingInner":0.3,"paddingOuter":0.15},"axis":{"domain":false,"ticks":false,"labelAngle":0,"labelPadding":14,"title":["Source: Haver Analytics; U.K. net issuance data refer only to Gilts.","¹ Central bank purchases of government securities in the secondary market."],"titleX":-9,"titleY":33,"titleLineHeight":15.5}},
    "xOffset":{"field":"s","type":"nominal","sort":["United States","Japan","United Kingdom"],"scale":{"paddingInner":0.18}},
    "color":{"field":"s","type":"nominal","sort":["United States","Japan","United Kingdom"],"scale":{"domain":["United States","Japan","United Kingdom"],"range":["#df5050","#0070c0","#ffc000"]},
      "legend":{"orient":"none","legendX":118,"legendY":58,"title":null,"symbolType":"square","symbolSize":121,"symbolStrokeWidth":0,"labelFontSize":17.5,"labelFont":"Liberation Sans","labelColor":"#000000","rowPadding":12.5,"labelOffset":3,"padding":0,"labelLimit":400}}
   }},
  {"data":{"values":[{"v":0}]},"mark":{"type":"rule","color":"#808080","strokeWidth":2},"encoding":{}}
 ]
},
{
 "width":452,"height":301,
 "title":{"text":"Real Yield ¹","subtitle":"(Percent)","dx":1,"offset":-34},
 "encoding":{
  "x":{"field":"d","type":"temporal","scale":{"type":"utc","domain":[{"year":2010,"month":1,"date":1,"utc":true},{"year":2011,"month":1,"date":15,"utc":true}]},
   "axis":{"values":[{"year":2010,"month":1,"date":1,"utc":true},{"year":2010,"month":4,"date":1,"utc":true},{"year":2010,"month":7,"date":1,"utc":true},{"year":2010,"month":10,"date":1,"utc":true},{"year":2011,"month":1,"date":1,"utc":true}],"format":"%b-%y","title":["Source: Bloomberg.","¹  8-year inflation indexed bond for Japan.;10-year for the United","Kingdom and United States."],"titleX":-30,"titleY":56,"titleLineHeight":17}},
  "y":{"field":"v","type":"quantitative","scale":{"domain":[0,2],"nice":false},"axis":{"values":[0,0.2,0.4,0.6,0.8,1.0,1.2,1.4,1.6,1.8,2.0],"format":".1f","title":null}}
 },
 "layer":[
  {"data":{"name":"p3JP"},"mark":{"type":"line","color":"#ffc000","strokeWidth":1.5},"encoding":{}},
  {"data":{"name":"p3US"},"mark":{"type":"line","color":"#0070c0","strokeWidth":1.5},"encoding":{}},
  {"data":{"name":"p3UK"},"mark":{"type":"line","color":"#e04b4b","strokeWidth":1.5},"encoding":{}},
  {"data":{"values":[{"d":"2010-11-01","v":1.488,"t":"Japan","s":"JP"},{"d":"2010-04-02","v":1.163,"t":"United States","s":"US"},{"d":"2010-08-25","v":0.319,"t":"United Kingdom","s":"UK"}]},
   "mark":{"type":"text","align":"center","baseline":"middle","fontSize":17},
   "encoding":{"text":{"field":"t"},"color":{"field":"s","type":"nominal","scale":{"domain":["UK","US","JP"],"range":["#e04b4b","#0070c0","#ffc000"]},"legend":null}}}
 ]
},
{
 "width":420,"height":306,
 "title":{"text":"CDS Spreads in G-7 Economies","subtitle":"(Basis points)","dx":20,"offset":-35.5},
 "encoding":{
  "x":{"field":"d","type":"temporal","scale":{"type":"utc","domain":[{"year":2010,"month":1,"date":2,"utc":true},{"year":2011,"month":1,"date":13,"utc":true}],"range":[2,420]},
   "axis":{"values":[{"year":2010,"month":1,"date":2,"utc":true},{"year":2010,"month":4,"date":1,"utc":true},{"year":2010,"month":7,"date":1,"utc":true},{"year":2010,"month":10,"date":1,"utc":true},{"year":2011,"month":1,"date":1,"utc":true}],"format":"%b-%y","title":"Source: Markit.","titleX":-25,"titleY":50}},
  "y":{"field":"v","type":"quantitative","scale":{"domain":[0,120],"range":[306,8],"nice":false},"axis":{"values":[0,30,60,90,120],"title":null,"offset":-2}}
 },
 "layer":[
  {"data":{"name":"p4UK"},"mark":{"type":"line","color":"#e04b4b","strokeWidth":1.5},"encoding":{}},
  {"data":{"name":"p4JP"},"mark":{"type":"line","color":"#ffc000","strokeWidth":1.5},"encoding":{}},
  {"data":{"name":"p4FR"},"mark":{"type":"line","color":"#00b0f0","strokeWidth":1.5},"encoding":{}},
  {"data":{"name":"p4DE"},"mark":{"type":"line","color":"#000000","strokeWidth":1.5},"encoding":{}},
  {"data":{"name":"p4US"},"mark":{"type":"line","color":"#1f72c6","strokeWidth":1.5},"encoding":{}},
  {"data":{"values":[{"d":"2010-03-20","v":106.3,"t":"United","s":"UK"},{"d":"2010-03-21","v":98.3,"t":"Kingdom","s":"UK"},{"d":"2010-10-10","v":87.8,"t":"France","s":"FR"},{"d":"2010-11-06","v":50.3,"t":"Japan","s":"JP"},{"d":"2010-04-17","v":22.6,"t":"Germany","s":"DE"},{"d":"2010-10-24","v":21.3,"t":"United States","s":"US"}]},
   "mark":{"type":"text","align":"center","baseline":"middle","fontSize":17},
   "encoding":{"text":{"field":"t"},"color":{"field":"s","type":"nominal","scale":{"domain":["UK","US","FR","DE","JP"],"range":["#e04b4b","#1f72c6","#00b0f0","#000000","#ffc000"]},"legend":null}}}
 ]
}
]
}
